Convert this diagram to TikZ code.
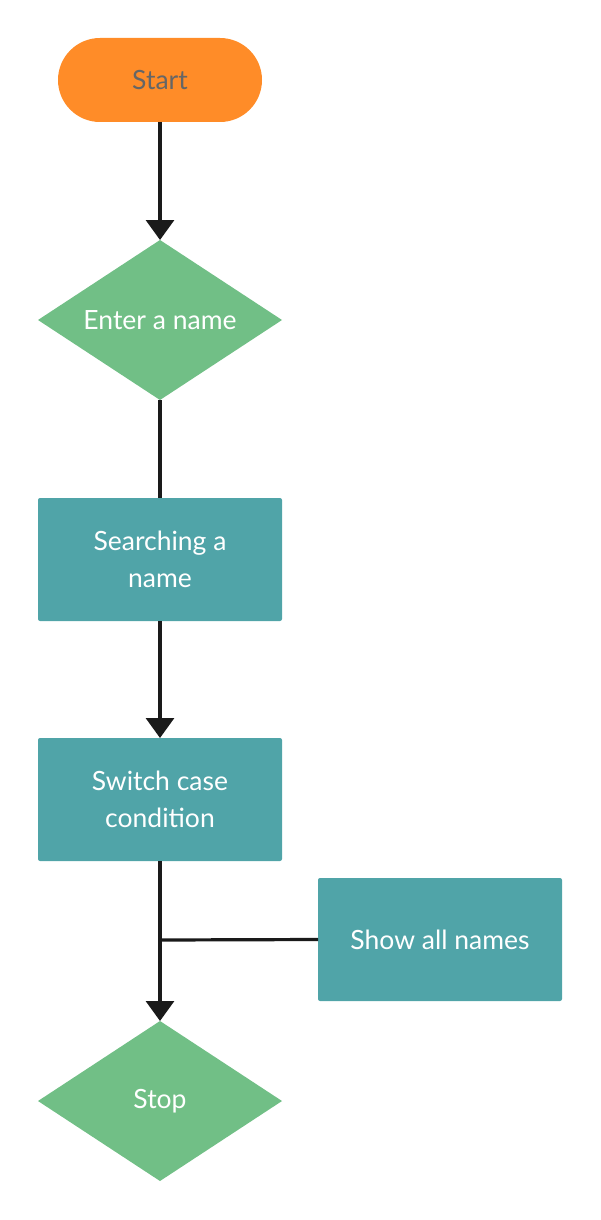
\documentclass[tikz,border=0pt]{standalone}
\usepackage{fontspec}
\setmainfont{Lato}
\usetikzlibrary{shapes.geometric,shapes.misc,arrows.meta}
\definecolor{startorange}{HTML}{FF8C28}
\definecolor{startgray}{HTML}{666666}
\definecolor{decgreen}{HTML}{71BF86}
\definecolor{procteal}{HTML}{50A4A8}
\definecolor{linegray}{HTML}{1A1A1A}
\tikzset{
  base/.style={inner sep=0pt, outer sep=0pt, font=\fontsize{26.5}{37}\selectfont, align=center},
  startbox/.style={base, fill=startorange, text=startgray, rounded rectangle, minimum width=204pt, minimum height=84pt},
  decbox/.style={base, fill=decgreen, text=white, diamond, aspect=1.525, minimum width=244pt, minimum height=160pt},
  procbox/.style={base, fill=procteal, text=white, rounded corners=2pt, minimum width=244pt, minimum height=123pt},
  conn/.style={draw=linegray, line width=3.2pt},
  arr/.style={conn, -{Triangle[width=28pt,length=20pt]}},
}
\begin{document}
\begin{tikzpicture}[x=1pt,y=-1pt]
\useasboundingbox (0,0) rectangle (601,1220);
\node[startbox] (start) at (160,80) {Start};
\node[decbox] (enter) at (160,320) {Enter a name};
\node[procbox] (search) at (160,559.5) {Searching a\\name};
\node[procbox] (switch) at (160,799.5) {Switch case\\condition};
\node[procbox] (show) at (440,939.5) {Show all names};
\node[decbox] (stop) at (160,1101) {Stop};
\coordinate (j) at (160,940);
\draw[arr] (start.south) -- (enter.north);
\draw[conn] (enter.south) -- (search.north);
\draw[arr] (search.south) -- (switch.north);
\draw[arr] (switch.south) -- (stop.north);
\draw[conn] (show.west) -- (j);
\end{tikzpicture}
\end{document}
